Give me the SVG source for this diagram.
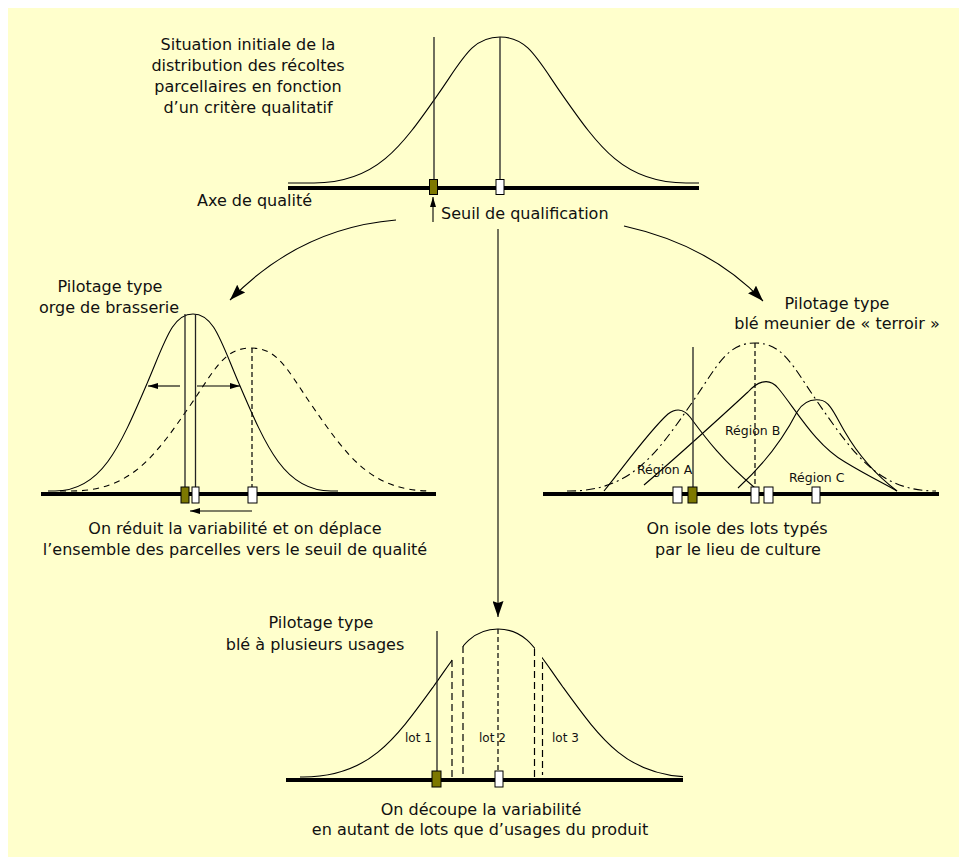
<svg xmlns="http://www.w3.org/2000/svg" width="959" height="857" viewBox="0 0 959 857">
<style>
  text { font-family: "DejaVu Sans", "Liberation Sans", sans-serif; font-size: 16px; fill: #111; }
  .small { font-size: 12px; }
  .region { font-size: 12.5px; }
  .mid { text-anchor: middle; }
  .axis { stroke: #000; stroke-width: 4; }
  .curve { fill: none; stroke: #000; stroke-width: 1.1; }
  .dash { stroke-dasharray: 6 5; }
  .dashdot { stroke-dasharray: 9 4 2 4; }
  .vline { stroke: #222; stroke-width: 1.3; }
  .vdash { stroke: #000; stroke-width: 1.2; stroke-dasharray: 7 4; }
  .vdash2 { stroke: #000; stroke-width: 1.2; stroke-dasharray: 5 3; }
  .mk-o { fill: #7d7800; stroke: #000; stroke-width: 1; }
  .mk-w { fill: #fff; stroke: #000; stroke-width: 1; }
  .conn { fill: none; stroke: #000; stroke-width: 1.1; }
</style>
<defs>
  <marker id="big" markerUnits="userSpaceOnUse" markerWidth="16" markerHeight="11" viewBox="0 0 16 11" refX="16" refY="5.5" orient="auto"><path d="M0,0 L16,5.5 L0,11 L2,5.5 z" fill="#000"/></marker>
  <marker id="sm" markerUnits="userSpaceOnUse" markerWidth="10" markerHeight="6" viewBox="0 0 10 6" refX="10" refY="3" orient="auto"><path d="M0,0 L10,3 L0,6 z" fill="#000"/></marker>
  <clipPath id="lotclip">
    <rect x="280" y="600" width="172" height="190"/>
    <rect x="463" y="600" width="72" height="190"/>
    <rect x="542" y="600" width="141" height="190"/>
  </clipPath>
</defs>

<rect x="0" y="0" width="959" height="857" fill="#fff"/>
<rect x="8" y="8" width="951" height="849" fill="#ffffcc"/>

<g id="initial">
  <path class="curve" d="M288,183 L314,183 C376,183 400.8,147.5 438,94.4 C462.8,58.9 472.1,37 500,37 C527.9,37 537.2,58.9 562,94.4 C599.2,147.5 624,183 686,183 L699,183"/>
  <line class="axis" x1="288" y1="188" x2="699" y2="188"/>
  <line class="vline" x1="434" y1="37" x2="434" y2="179"/>
  <line class="vline" x1="500" y1="37" x2="500" y2="179"/>
  <rect class="mk-o" x="429.5" y="179.5" width="8" height="15"/>
  <rect class="mk-w" x="496" y="179.5" width="8" height="15"/>
  <text class="mid" x="248" y="50">Situation initiale de la</text>
  <text class="mid" x="248" y="71">distribution des récoltes</text>
  <text class="mid" x="248" y="92">parcellaires en fonction</text>
  <text class="mid" x="248" y="113">d’un critère qualitatif</text>
  <text x="197" y="206">Axe de qualité</text>
  <text x="441" y="219">Seuil de qualification</text>
  <path class="conn" d="M433,222 L433,197" marker-end="url(#sm)"/>
</g>

<g id="connectors">
  <path class="conn" d="M396,220 Q300,228 230,300" marker-end="url(#big)"/>
  <path class="conn" d="M624,226 Q710,245 763,301" marker-end="url(#big)"/>
  <path class="conn" d="M498,229 L498,617" marker-end="url(#big)"/>
</g>

<g id="orge">
  <text class="mid" x="110" y="292">Pilotage type</text>
  <text class="mid" x="109" y="313">orge de brasserie</text>
  <path class="curve dash" d="M60,491 L71,491 C131,491 155,456.3 191,404.2 C215,369.4 224,348 251,348 C278,348 287,369.4 311,404.2 C347,456.3 371,491 431,491"/>
  <path class="curve" d="M48,491 L55,491 C101,491 119.4,448 147,383.6 C165.4,340.5 172.3,314 193,314 C213.7,314 220.6,340.5 239,383.6 C266.6,448 285,491 331,491 L338,491"/>
  <line class="axis" x1="41" y1="494" x2="436" y2="494"/>
  <line class="vline" x1="185" y1="314" x2="185" y2="487"/>
  <line class="vline" x1="195.5" y1="314" x2="195.5" y2="487"/>
  <line class="vdash2" x1="252" y1="348" x2="252" y2="487"/>
  <rect class="mk-o" x="181" y="487" width="8" height="16"/>
  <rect class="mk-w" x="192" y="487" width="7" height="16"/>
  <rect class="mk-w" x="248" y="487" width="9" height="16"/>
  <path class="conn" d="M180,386 L148,386" marker-end="url(#sm)"/>
  <path class="conn" d="M197,386 L240,386" marker-end="url(#sm)"/>
  <path class="conn" d="M252,511 L190,511" marker-end="url(#sm)"/>
  <text class="mid" x="235" y="534">On réduit la variabilité et on déplace</text>
  <text class="mid" x="235" y="555">l’ensemble des parcelles vers le seuil de qualité</text>
</g>

<g id="terroir">
  <text class="mid" x="837" y="309">Pilotage type</text>
  <text class="mid" x="837" y="329">blé meunier de « terroir »</text>
  <path class="curve dashdot" d="M567,491 L569,491 C631,491 655.8,455 693,401.2 C717.8,365.2 727.1,343 755,343 C782.9,343 792.2,365.2 817,401.2 C854.2,455 879,491 936,491"/>
  <path class="curve" d="M604,491 C625,465 650,430 668,414 C676,408 684,409 690,417 C705,437 720,458 755,488"/>
  <path class="curve" d="M644,485 C685,450 725,413 748,392 C756,383 768,376 778,388 C795,408 815,445 845,462 C868,476 885,484 897,491"/>
  <path class="curve" d="M738,488 C760,468 780,445 797,412 C803,402 812,399 820,400 C830,401 835,415 845,432 C860,458 880,478 897,491"/>
  <line class="axis" x1="543" y1="494" x2="939" y2="494"/>
  <line class="vline" x1="693" y1="347" x2="693" y2="487"/>
  <line class="vdash2" x1="755" y1="343" x2="755" y2="487"/>
  <rect class="mk-w" x="673" y="487" width="9" height="16"/>
  <rect class="mk-o" x="688" y="487" width="9" height="16"/>
  <rect class="mk-w" x="751" y="487" width="8" height="16"/>
  <rect class="mk-w" x="764" y="487" width="9" height="16"/>
  <rect class="mk-w" x="812" y="487" width="8" height="16"/>
  <text class="region" x="637" y="474">Région A</text>
  <text class="region" x="725" y="435">Région B</text>
  <text class="region" x="789" y="482">Région C</text>
  <text class="mid" x="737" y="534">On isole des lots typés</text>
  <text class="mid" x="738" y="555">par le lieu de culture</text>
</g>

<g id="usages">
  <text class="mid" x="321" y="628">Pilotage type</text>
  <text class="mid" x="315" y="650">blé à plusieurs usages</text>
  <path class="curve" clip-path="url(#lotclip)" d="M300,777 L303,777 C368,777 394,741 433,687.2 C459,651.2 468.75,629 498,629 C527.25,629 537,651.2 563,687.2 C602,741 628,777 693,777"/>
  <line class="axis" x1="286" y1="780" x2="683" y2="780"/>
  <line class="vline" x1="437" y1="631" x2="437" y2="771"/>
  <line class="vdash" x1="452" y1="660" x2="452" y2="778"/>
  <line class="vdash" x1="463" y1="646" x2="463" y2="778"/>
  <line class="vdash2" x1="498" y1="629" x2="498" y2="771"/>
  <line class="vdash" x1="534.5" y1="649" x2="534.5" y2="778"/>
  <line class="vdash" x1="542.5" y1="662" x2="542.5" y2="775"/>
  <rect class="mk-o" x="432" y="771" width="9" height="16"/>
  <rect class="mk-w" x="495" y="771" width="8" height="16"/>
  <text class="small" x="405" y="742">lot 1</text>
  <text class="small" x="479" y="742">lot 2</text>
  <text class="small" x="552" y="742">lot 3</text>
  <text class="mid" x="481" y="815">On découpe la variabilité</text>
  <text class="mid" x="480" y="835">en autant de lots que d’usages du produit</text>
</g>
</svg>
